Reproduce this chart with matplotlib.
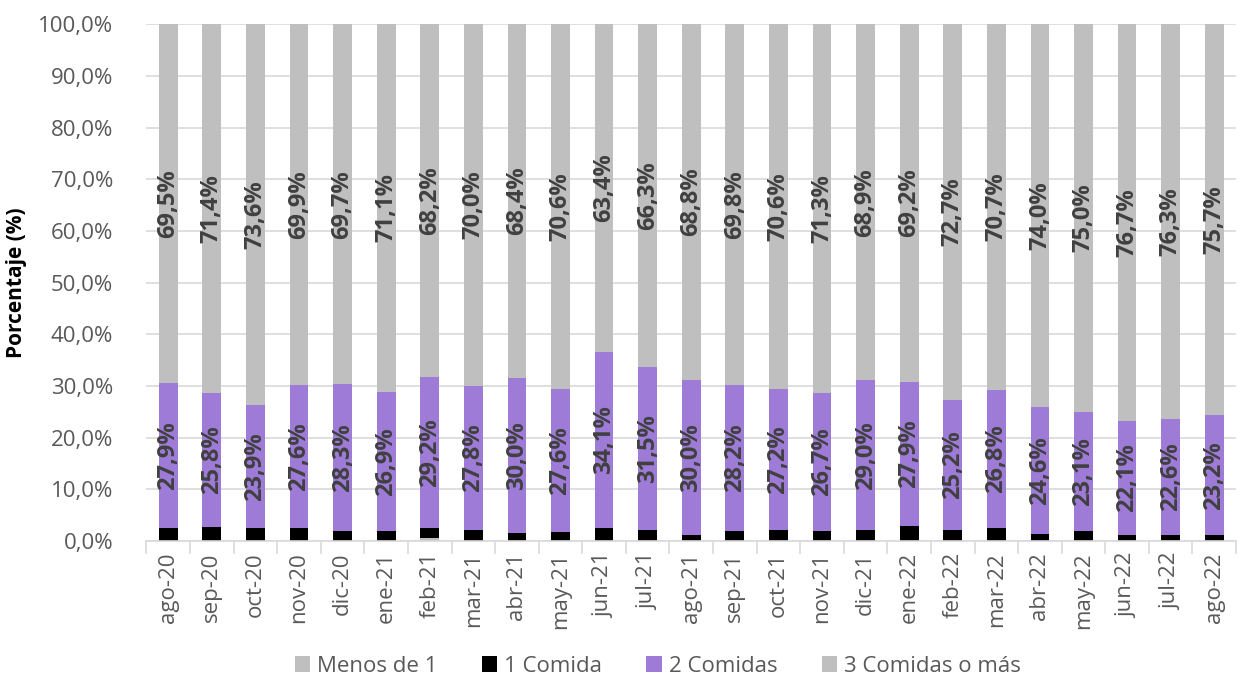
import matplotlib.pyplot as plt
import numpy as np
from matplotlib.ticker import FuncFormatter, FixedLocator

plt.rcParams['font.family'] = ['Open Sans', 'DejaVu Sans']

meses = ['ago-20', 'sep-20', 'oct-20', 'nov-20', 'dic-20', 'ene-21', 'feb-21', 'mar-21',
         'abr-21', 'may-21', 'jun-21', 'jul-21', 'ago-21', 'sep-21', 'oct-21', 'nov-21',
         'dic-21', 'ene-22', 'feb-22', 'mar-22', 'abr-22', 'may-22', 'jun-22', 'jul-22', 'ago-22']

menos_de_1 = [0.1, 0.1, 0.1, 0.1, 0.1, 0.1, 0.5, 0.1, 0.1, 0.1, 0.1, 0.1, 0.1,
              0.1, 0.1, 0.1, 0.1, 0.1, 0.1, 0.1, 0.1, 0.1, 0.1, 0.1, 0.1]
una_comida = [2.5, 2.7, 2.4, 2.4, 1.9, 1.9, 2.1, 2.1, 1.5, 1.7, 2.4, 2.1, 1.1,
              1.9, 2.1, 1.9, 2.0, 2.8, 2.0, 2.4, 1.3, 1.8, 1.1, 1.0, 1.0]
dos_comidas = [27.9, 25.8, 23.9, 27.6, 28.3, 26.9, 29.2, 27.8, 30.0, 27.6, 34.1, 31.5, 30.0,
               28.2, 27.2, 26.7, 29.0, 27.9, 25.2, 26.8, 24.6, 23.1, 22.1, 22.6, 23.2]
tres_comidas = [69.5, 71.4, 73.6, 69.9, 69.7, 71.1, 68.2, 70.0, 68.4, 70.6, 63.4, 66.3, 68.8,
                69.8, 70.6, 71.3, 68.9, 69.2, 72.7, 70.7, 74.0, 75.0, 76.7, 76.3, 75.7]

gris = '#bfbfbf'
morado = '#9d7bd6'

x = np.arange(len(meses))
m1 = np.array(menos_de_1)
c1 = np.array(una_comida)
c2 = np.array(dos_comidas)
c3 = np.array(tres_comidas)

fig = plt.figure(figsize=(12.41, 6.91), dpi=100)
ax = fig.add_axes([0.118, 0.217, 0.878, 0.748])

w = 0.43
ax.bar(x, m1, w, color=gris, label='Menos de 1', zorder=2)
ax.bar(x, c1, w, bottom=m1, color='black', label='1 Comida', zorder=2)
ax.bar(x, c2, w, bottom=m1 + c1, color=morado, label='2 Comidas', zorder=2)
ax.bar(x, c3, w, bottom=m1 + c1 + c2, color=gris, label='3 Comidas o más', zorder=2)

fmt = lambda v: f'{v:.1f}%'.replace('.', ',')
for i in range(len(meses)):
    ax.text(x[i], m1[i] + c1[i] + c2[i] / 2, fmt(c2[i]), rotation=90, ha='center', va='center',
            fontsize=17, fontweight='bold', color='#404040', zorder=3)
    ax.text(x[i], m1[i] + c1[i] + c2[i] + c3[i] / 2, fmt(c3[i]), rotation=90, ha='center',
            va='center', fontsize=17, fontweight='bold', color='#404040', zorder=3)

ax.set_xlim(-0.5, len(meses) - 0.5)
ax.set_ylim(0, 100)
ax.set_yticks(np.arange(0, 101, 10))
ax.yaxis.set_major_formatter(FuncFormatter(lambda v, p: f'{v:.1f}%'.replace('.', ',')))
ax.grid(axis='y', color='#d9d9d9', linewidth=1.2, zorder=0)
ax.set_axisbelow(True)

ax.set_xticks(x)
ax.set_xticklabels(meses, rotation=90)
ax.xaxis.set_minor_locator(FixedLocator(np.arange(-0.5, len(meses), 1)))
ax.tick_params(axis='x', which='major', length=0, pad=8, labelsize=16, labelcolor='#595959')
ax.tick_params(axis='x', which='minor', length=9, color='#d9d9d9', width=1.2)
ax.tick_params(axis='y', length=0, labelsize=16, labelcolor='#595959', pad=24)

for s in ['top', 'right', 'left']:
    ax.spines[s].set_visible(False)
ax.spines['bottom'].set_color('#d9d9d9')
ax.spines['bottom'].set_linewidth(1.2)

ax.set_ylabel('Porcentaje (%)', fontsize=15, fontweight='bold', color='black', labelpad=8)

fig.legend(loc='lower center', bbox_to_anchor=(0.53, -0.008), ncol=4, frameon=False,
           fontsize=16, labelcolor='#595959', handlelength=0.7, handleheight=0.7,
           handletextpad=0.3, columnspacing=2.0)

fig.savefig('out.png', dpi=100)
